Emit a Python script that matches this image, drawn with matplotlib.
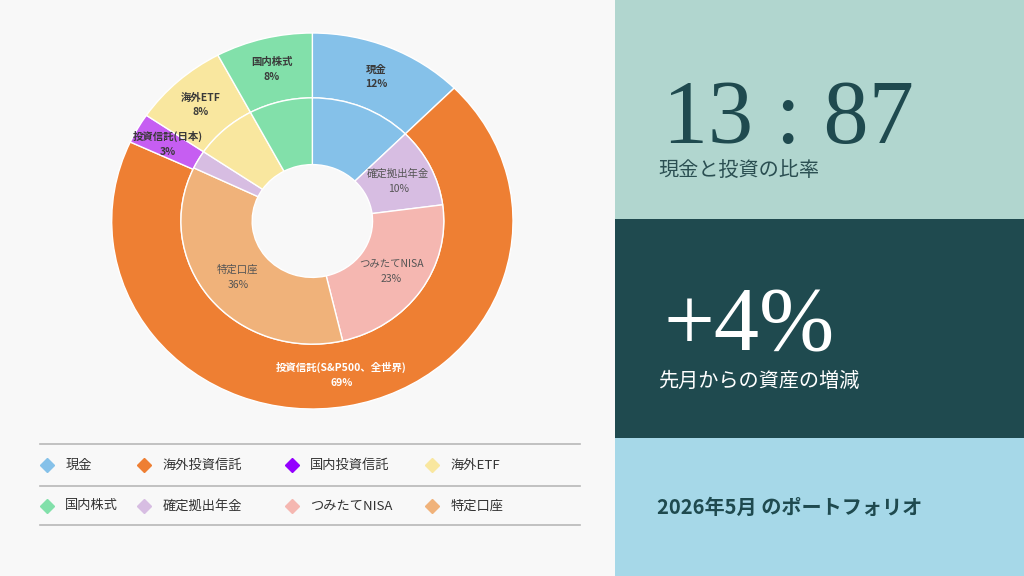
import numpy as np
import matplotlib.pyplot as plt
from matplotlib.lines import Line2D

plt.rcParams['font.family'] = ['Noto Sans CJK JP', 'DejaVu Sans']

# outer ring: asset type
outer_names = ['現金', '投資信託(S&P500、全世界)', '投資信託(日本)', '海外ETF', '国内株式']
outer_vals = [12.5, 69.4, 2.6, 7.7, 7.8]
outer_colors = ['#85C1E9', '#EE7F33', '#C65EF2', '#F9E79F', '#82E0AA']

# inner ring: account type
inner_names = ['', '確定拠出年金', 'つみたてNISA', '特定口座', '', '', '']
inner_vals = [12.5, 10.4, 23.4, 35.8, 2.4, 7.7, 7.8]
inner_colors = ['#85C1E9', '#D7BDE2', '#F5B7B1', '#F0B27A', '#D7BDE2', '#F9E79F', '#82E0AA']

legend_names = ['現金', '海外投資信託', '国内投資信託', '海外ETF',
                '国内株式', '確定拠出年金', 'つみたてNISA', '特定口座']
legend_colors = ['#85C1E9', '#EE7F33', '#9400FF', '#F9E79F',
                 '#82E0AA', '#D7BDE2', '#F5B7B1', '#F0B27A']

ratio_text = '13 : 87'
ratio_caption = '現金と投資の比率'
change_text = '+4%'
change_caption = '先月からの資産の増減'
title_text = '2026年5月 のポートフォリオ'

fig = plt.figure(figsize=(10.24, 5.76), dpi=100)
fig.patch.set_facecolor('#F8F8F8')

# --- donut ---
ax = fig.add_axes([111.7/1024, (576-409)/576, 401.3/1024, 376/576])
w_out, t_out, a_out = ax.pie(outer_vals, radius=1, colors=outer_colors, startangle=90,
                             counterclock=False, autopct='%.0f%%', pctdistance=0.83,
                             wedgeprops=dict(width=0.345, edgecolor='white', linewidth=1),
                             textprops=dict(fontsize=7.5, fontweight='bold', color='#3a3a3a'))
for t, n in zip(a_out, outer_names):
    t.set_text(n + '\n' + t.get_text())
    t.set_linespacing(1.6)
a_out[1].set_color('white')

w_in, t_in, a_in = ax.pie(inner_vals, radius=0.655, colors=inner_colors, startangle=90,
                          counterclock=False, autopct='%.0f%%', pctdistance=0.728,
                          wedgeprops=dict(width=0.355, edgecolor='white', linewidth=1),
                          textprops=dict(fontsize=7.5, color='#555555'))
for t, n in zip(a_in, inner_names):
    if n:
        t.set_text(n + '\n' + t.get_text())
        t.set_linespacing(1.6)
    else:
        t.set_text('')
ax.set_aspect('auto')
ax.set_xlim(-1, 1)
ax.set_ylim(-1, 1)

# --- legend ---
lg = fig.add_axes([0, 0, 600/1024, 1])
lg.set_xlim(0, 600)
lg.set_ylim(576, 0)
lg.axis('off')
for y in [443.7, 486, 525]:
    lg.plot([40, 580], [y, y], color='#b8b8b8', lw=1.2)
col_x = [46.7, 144, 291.5, 432]
row_y = [465, 506]
for i, (n, c) in enumerate(zip(legend_names, legend_colors)):
    x = col_x[i % 4]
    y = row_y[i // 4]
    lg.plot([x], [y], marker='D', ms=7.5, color=c, mec=c)
    lg.text(x + 18.5, y, n, fontsize=9.5, color='#333333', va='center', ha='left')

# --- right panels ---
rp = fig.add_axes([615/1024, 0, 409/1024, 1])
rp.set_xlim(0, 409)
rp.set_ylim(0, 576)
rp.axis('off')
rp.axhspan(357, 576, color='#B1D6CF', lw=0)
rp.axhspan(138, 357, color='#1F4A4F', lw=0)
rp.axhspan(0, 138, color='#A6D8E8', lw=0)

rp.text(48, 433, ratio_text, family=['Liberation Serif'], fontsize=65,
        color='#1F4A4F', va='baseline', ha='left')
rp.text(43, 404.3, ratio_caption, fontsize=14.5, color='#2B4F52', va='center', ha='left')
rp.text(48, 226, change_text, family=['Liberation Serif'], fontsize=65,
        color='white', va='baseline', ha='left')
rp.text(43, 194.3, change_caption, fontsize=14.5, color='white', va='center', ha='left')
rp.text(42, 68.3, title_text, fontsize=14.5, fontweight='bold', color='#1F4A4F',
        va='center', ha='left')

fig.savefig('out.png', dpi=100, facecolor=fig.get_facecolor())
